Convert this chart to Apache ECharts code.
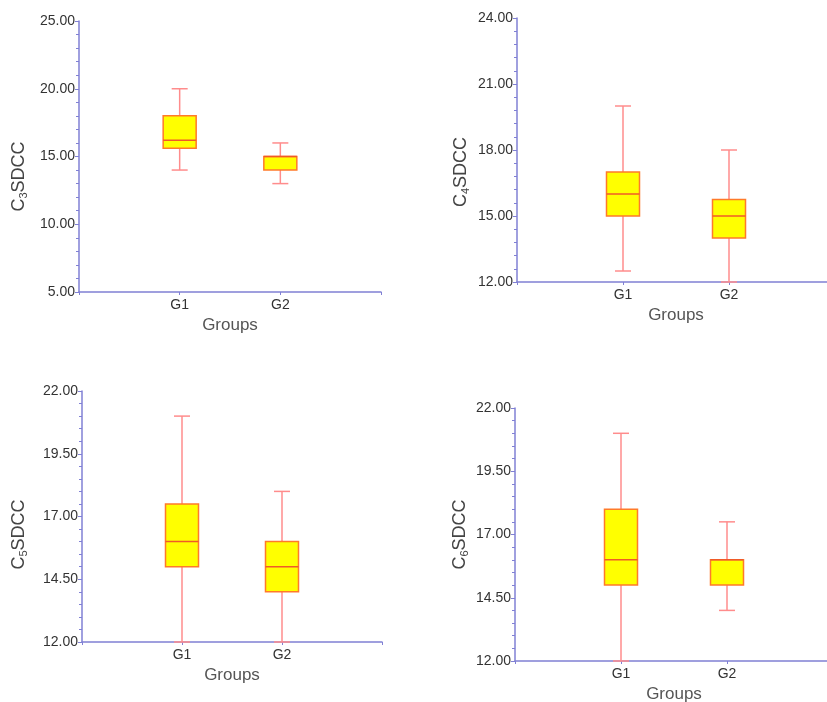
<!DOCTYPE html>
<html>
<head>
<meta charset="utf-8">
<script src="https://cdn.jsdelivr.net/npm/echarts@6/dist/echarts.min.js"></script>
<style>
  html, body { margin: 0; padding: 0; background: #fff; }
  #main { width: 827px; height: 702px; }
</style>
</head>
<body>
<div id="main"></div>
<script>
// categories (blank slots at both ends so G1/G2 sit at 1/3 and 2/3 of the axis)
var groups = ['', 'G1', 'G2', ''];

// [lower whisker, Q1, median, Q3, upper whisker] for G1, G2
var c3Stats = [[14, 15.6, 16.2, 18, 20], [13, 14, 15, 15, 16]];
var c4Stats = [[12.5, 15, 16, 17, 20], [12, 14, 15, 15.75, 18]];
var c5Stats = [[12, 15, 16, 17.5, 21], [12, 14, 15, 16, 18]];
var c6Stats = [[12, 15, 16, 18, 21], [14, 15, 16, 16, 17.5]];

// y axis ranges: [min, max, interval]
var c3Range = [5, 25, 5];
var c4Range = [12, 24, 3];
var c5Range = [12, 22, 2.5];
var c6Range = [12, 22, 2.5];

var axisColor = '#8080d4';
var whiskerColor = '#ff8c8c';
var boxBorder = '#ff7a2a';
var medianColor = '#f05a28';

function renderBox(params, api) {
    var x = api.value(0);
    var p = [1, 2, 3, 4, 5].map(function (i) { return api.coord([x, api.value(i)]); });
    var cx = p[0][0];
    var hw = 16.5, cw = 8;
    return {
        type: 'group',
        children: [
            { type: 'line', shape: { x1: cx, y1: p[0][1], x2: cx, y2: p[4][1] }, style: { stroke: whiskerColor, lineWidth: 1.5 } },
            { type: 'line', shape: { x1: cx - cw, y1: p[4][1], x2: cx + cw, y2: p[4][1] }, style: { stroke: whiskerColor, lineWidth: 1.5 } },
            { type: 'line', shape: { x1: cx - cw, y1: p[0][1], x2: cx + cw, y2: p[0][1] }, style: { stroke: whiskerColor, lineWidth: 1.5 } },
            { type: 'rect', shape: { x: cx - hw, y: p[3][1], width: hw * 2, height: p[1][1] - p[3][1] }, style: { fill: '#ffff00', stroke: boxBorder, lineWidth: 1.5 } },
            { type: 'line', shape: { x1: cx - hw, y1: p[2][1], x2: cx + hw, y2: p[2][1] }, style: { stroke: medianColor, lineWidth: 1.5 } }
        ]
    };
}

var grids = [
    { left: 79, top: 21, width: 302, height: 271, outerBoundsMode: 'none' },
    { left: 517, top: 18, width: 318, height: 264, outerBoundsMode: 'none' },
    { left: 82, top: 391, width: 300, height: 251, outerBoundsMode: 'none' },
    { left: 515, top: 408, width: 318, height: 253, outerBoundsMode: 'none' }
];
var names = ['3', '4', '5', '6'];
var ranges = [c3Range, c4Range, c5Range, c6Range];
var stats = [c3Stats, c4Stats, c5Stats, c6Stats];
var nameGaps = [50, 46, 53, 45];
var namePads = [[0, 40, 0, 0], [0, 44, 0, 0], [0, 36, 0, 0], [0, 0, 0, 0]];

var xAxes = [], yAxes = [], series = [];
for (var i = 0; i < 4; i++) {
    xAxes.push({
        gridIndex: i,
        type: 'category',
        data: groups,
        boundaryGap: false,
        name: 'Groups',
        nameLocation: 'middle',
        nameGap: 25,
        nameTextStyle: { fontFamily: 'Liberation Sans', fontSize: 17, color: '#555' },
        axisLine: { lineStyle: { color: axisColor, width: 1.5 } },
        axisTick: { show: true, length: 3, lineStyle: { color: axisColor } },
        axisLabel: { fontFamily: 'Liberation Sans', fontSize: 14, color: '#333', margin: 6 },
        splitLine: { show: false }
    });
    yAxes.push({
        gridIndex: i,
        type: 'value',
        min: ranges[i][0],
        max: ranges[i][1],
        interval: ranges[i][2],
        name: '{a|C}{s|' + names[i] + '}{a|SDCC}',
        nameLocation: 'middle',
        nameGap: nameGaps[i],
        nameRotate: 90,
        nameTextStyle: {
            padding: namePads[i],
            rich: {
                a: { fontFamily: 'Liberation Sans', fontSize: 18, color: '#444', lineHeight: 20 },
                s: { fontFamily: 'Liberation Sans', fontSize: 11, color: '#444', lineHeight: 12, verticalAlign: 'bottom', padding: [12, 0, 0, 0] }
            }
        },
        axisLine: { show: true, lineStyle: { color: axisColor, width: 1.5 } },
        axisTick: { show: true, length: 4, lineStyle: { color: axisColor } },
        minorTick: { show: true, splitNumber: 5, length: 3, lineStyle: { color: axisColor } },
        axisLabel: {
            fontFamily: 'Liberation Sans', fontSize: 14, color: '#333', margin: 4,
            formatter: function (v) { return v.toFixed(2); }
        },
        splitLine: { show: false }
    });
    series.push({
        type: 'custom',
        xAxisIndex: i,
        yAxisIndex: i,
        renderItem: renderBox,
        encode: { x: 0, y: [1, 2, 3, 4, 5] },
        data: stats[i].map(function (s, k) { return [k + 1].concat(s); })
    });
}

var chart = echarts.init(document.getElementById('main'));
chart.setOption({
    animation: false,
    backgroundColor: '#fff',
    grid: grids,
    xAxis: xAxes,
    yAxis: yAxes,
    series: series
});
</script>
</body>
</html>
